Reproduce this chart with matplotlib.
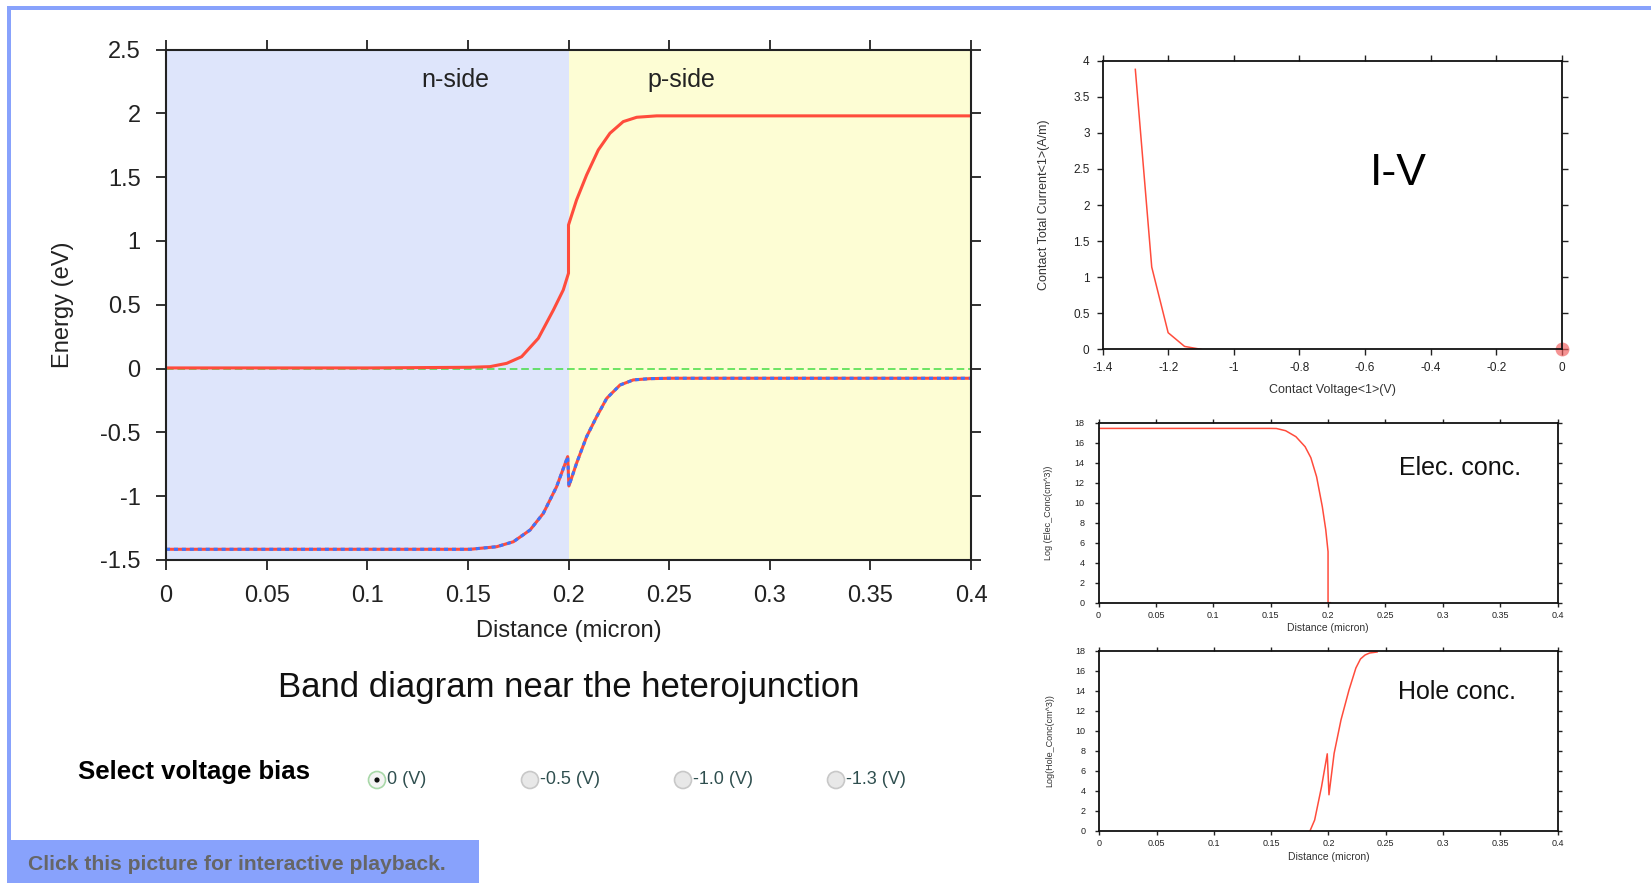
import matplotlib
matplotlib.use('Agg')
import matplotlib.pyplot as plt
from matplotlib.patches import Rectangle, Circle

plt.rcParams['font.family'] = ['Liberation Sans', 'DejaVu Sans']

W, H = 1651, 883

# band diagram (energy in eV vs distance in micron)
cb_x = [0, 0.10, 0.1511, 0.161, 0.1693, 0.1767, 0.185, 0.1925, 0.1974, 0.2, 0.2,
        0.204, 0.209, 0.2148, 0.2206, 0.2272, 0.2339, 0.2438, 0.2504, 0.4]
cb_y = [0.005, 0.005, 0.01, 0.015, 0.041, 0.093, 0.237, 0.459, 0.616, 0.747, 1.125,
        1.321, 1.517, 1.713, 1.844, 1.935, 1.969, 1.98, 1.98, 1.98]
vb_x = [0, 0.1511, 0.1643, 0.1726, 0.1809, 0.1875, 0.1941, 0.1996, 0.2002, 0.204,
        0.209, 0.214, 0.219, 0.2256, 0.2322, 0.2405, 0.2504, 0.4]
vb_y = [-1.416, -1.416, -1.396, -1.357, -1.265, -1.134, -0.925, -0.69, -0.92, -0.742,
        -0.534, -0.377, -0.233, -0.129, -0.089, -0.079, -0.076, -0.076]
fermi = 0.0

# I-V
iv_v = [-1.3, -1.25, -1.2, -1.15, -1.1]
iv_i = [3.88, 1.14, 0.23, 0.04, 0.0]
bias_now = (0.0, 0.0)

# carrier concentrations (log10 cm^-3)
ec_x = [0, 0.149, 0.155, 0.163, 0.172, 0.18, 0.185, 0.19, 0.195, 0.198, 0.2, 0.2, 0.202]
ec_y = [17.43, 17.43, 17.42, 17.2, 16.6, 15.6, 14.5, 12.6, 9.6, 7.3, 5.1, 0, 0]
hc_x = [0.184, 0.188, 0.194, 0.199, 0.2005, 0.205, 0.211, 0.218, 0.224, 0.228,
        0.232, 0.236, 0.2425]
hc_y = [0, 1.07, 4.4, 7.7, 3.6, 7.75, 11.1, 14.1, 16.3, 17.2, 17.6, 17.8, 17.9]

dist_ticks = [0, 0.05, 0.1, 0.15, 0.2, 0.25, 0.3, 0.35, 0.4]
dist_labels = ['0', '0.05', '0.1', '0.15', '0.2', '0.25', '0.3', '0.35', '0.4']
e_ticks = [-1.5, -1, -0.5, 0, 0.5, 1, 1.5, 2, 2.5]
e_labels = ['-1.5', '-1', '-0.5', '0', '0.5', '1', '1.5', '2', '2.5']
v_ticks = [-1.4, -1.2, -1.0, -0.8, -0.6, -0.4, -0.2, 0]
v_labels = ['-1.4', '-1.2', '-1', '-0.8', '-0.6', '-0.4', '-0.2', '0']
i_ticks = [0, 0.5, 1, 1.5, 2, 2.5, 3, 3.5, 4]
i_labels = ['0', '0.5', '1', '1.5', '2', '2.5', '3', '3.5', '4']
c_ticks = list(range(0, 19, 2))
bias_opts = ['0 (V)', '-0.5 (V)', '-1.0 (V)', '-1.3 (V)']

RED = '#ff4c3c'
BLUE = '#3a74ff'
FRAME = '#88a2fc'


def box(l, t, r, b):
    return [l / W, 1 - b / H, (r - l) / W, (b - t) / H]


fig = plt.figure(figsize=(W / 100, H / 100), dpi=100)
fig.patch.set_facecolor('white')

# overlay in pixel coords for the page decorations
bg = fig.add_axes([0, 0, 1, 1], zorder=-5)
bg.set_xlim(0, W)
bg.set_ylim(H, 0)
bg.axis('off')
bg.add_patch(Rectangle((7, 6), W - 7, 4, color=FRAME, lw=0))
bg.add_patch(Rectangle((7, 6), 4, 840 - 6, color=FRAME, lw=0))
bg.add_patch(Rectangle((7, 840), 472, H - 840, color=FRAME, lw=0))
bg.text(28, 865, 'Click this picture for interactive playback.', fontsize=15.2,
        fontweight='bold', color='#666666', va='center', ha='left')
bg.text(78, 772, 'Select voltage bias', fontsize=18.5, fontweight='bold',
        color='black', va='center', ha='left')
for k, (cx, lab) in enumerate(zip([377, 530, 683, 836], bias_opts)):
    sel = k == 0
    bg.add_patch(Circle((cx, 780), 8.5, facecolor='#f4f4f4' if sel else '#e8e8e8',
                        edgecolor='#a8d8a8' if sel else '#c8c8c8', lw=1.2))
    if sel:
        bg.add_patch(Circle((cx, 780), 2.6, color='#111111', lw=0))
    bg.text(cx + 10, 780, lab, fontsize=13, color='#2f4f4f', va='center', ha='left')
bg.text(569, 687, 'Band diagram near the heterojunction', fontsize=25,
        ha='center', va='center', color='#111111')

# main band diagram
ax = fig.add_axes(box(166, 49.5, 971, 560))
ax.axvspan(0, 0.2, color='#dee5fb', lw=0)
ax.axvspan(0.2, 0.4, color='#fdfdd4', lw=0)
ax.axhline(fermi, color='#44dd44', lw=1.1, dashes=(5, 2.5))
ax.plot(cb_x, cb_y, color=RED, lw=2.2)
ax.plot(vb_x, vb_y, color=RED, lw=2.2)
ax.plot(vb_x, vb_y, color=BLUE, lw=2.2, dashes=(1.3, 1.3))
ax.set_xlim(0, 0.4)
ax.set_ylim(-1.5, 2.5)
ax.set_xticks(dist_ticks, dist_labels)
ax.set_yticks(e_ticks, e_labels)
ax.tick_params(direction='out', length=7.2, width=1.3, top=True, right=True,
               labelsize=17, colors='#222222')
ax.tick_params(axis='x', pad=11)
ax.tick_params(axis='y', pad=11)
for s in ax.spines.values():
    s.set_linewidth(1.5)
    s.set_color('#222222')
ax.text(0.1436, 2.26, 'n-side', fontsize=18, ha='center', va='center', color='#222222')
ax.text(0.256, 2.26, 'p-side', fontsize=18, ha='center', va='center', color='#222222')
ax.set_xlabel('Distance (micron)', fontsize=17, va='center', color='#222222')
ax.xaxis.set_label_coords(0.5, -0.139)
ax.set_ylabel('Energy (eV)', fontsize=17, va='center', color='#222222')
ax.yaxis.set_label_coords(-0.128, 0.5)


def small_axes(rect, tl, lab_pad_x, lab_pad_y):
    a = fig.add_axes(rect)
    a.tick_params(direction='out', length=tl, width=1.0, top=True, right=True,
                  colors='#222222')
    for s in a.spines.values():
        s.set_linewidth(1.3)
        s.set_color('#111111')
    a.tick_params(axis='x', pad=lab_pad_x)
    a.tick_params(axis='y', pad=lab_pad_y)
    return a


# I-V
iv = small_axes(box(1102.5, 60.7, 1562, 349.3), 4.3, 5, 5)
iv.plot(iv_v, iv_i, color=RED, lw=1.1)
iv.plot(*bias_now, 'o', ms=10, color='#f05a5a', alpha=0.65, mec='none', clip_on=False)
iv.set_xlim(-1.4, 0)
iv.set_ylim(0, 4)
iv.set_xticks(v_ticks, v_labels)
iv.set_yticks(i_ticks, i_labels)
iv.tick_params(labelsize=8.5)
iv.set_xlabel('Contact Voltage<1>(V)', fontsize=9, va='center', color='#333333')
iv.xaxis.set_label_coords(0.5, -0.141)
iv.set_ylabel('Contact Total Current<1>(A/m)', fontsize=9, va='center', color='#333333')
iv.yaxis.set_label_coords(-0.127, 0.5)
iv.text(0.643, 0.61, 'I-V', transform=iv.transAxes, fontsize=32, ha='center', va='center')

# electron concentration
el = small_axes(box(1098.6, 422.7, 1557.5, 602.7), 3, 3, 7)
el.plot(ec_x, ec_y, color=RED, lw=1.1)
el.set_xlim(0, 0.4)
el.set_ylim(0, 18)
el.set_xticks(dist_ticks, dist_labels)
el.set_yticks(c_ticks)
el.tick_params(labelsize=6.5)
el.set_xlabel('Distance (micron)', fontsize=7.5, va='center', color='#333333')
el.xaxis.set_label_coords(0.5, -0.14)
el.set_ylabel('Log (Elec_Conc(cm^3))', fontsize=6.5, va='center', color='#333333')
el.yaxis.set_label_coords(-0.109, 0.5)
el.text(1398.6, 468, 'Elec. conc.', transform=bg.transData, fontsize=18,
        ha='left', va='center', color='#111111')

# hole concentration
ho = small_axes(box(1099.3, 651, 1557.5, 830.7), 3, 3, 7)
ho.plot(hc_x, hc_y, color=RED, lw=1.1)
ho.set_xlim(0, 0.4)
ho.set_ylim(0, 18)
ho.set_xticks(dist_ticks, dist_labels)
ho.set_yticks(c_ticks)
ho.tick_params(labelsize=6.5)
ho.set_xlabel('Distance (micron)', fontsize=7.5, va='center', color='#333333')
ho.xaxis.set_label_coords(0.5, -0.145)
ho.set_ylabel('Log(Hole_Conc(cm^3))', fontsize=6.5, va='center', color='#333333')
ho.yaxis.set_label_coords(-0.109, 0.5)
ho.text(1397.5, 692, 'Hole conc.', transform=bg.transData, fontsize=18,
        ha='left', va='center', color='#111111')

fig.savefig('out.png', dpi=100, facecolor='white')
